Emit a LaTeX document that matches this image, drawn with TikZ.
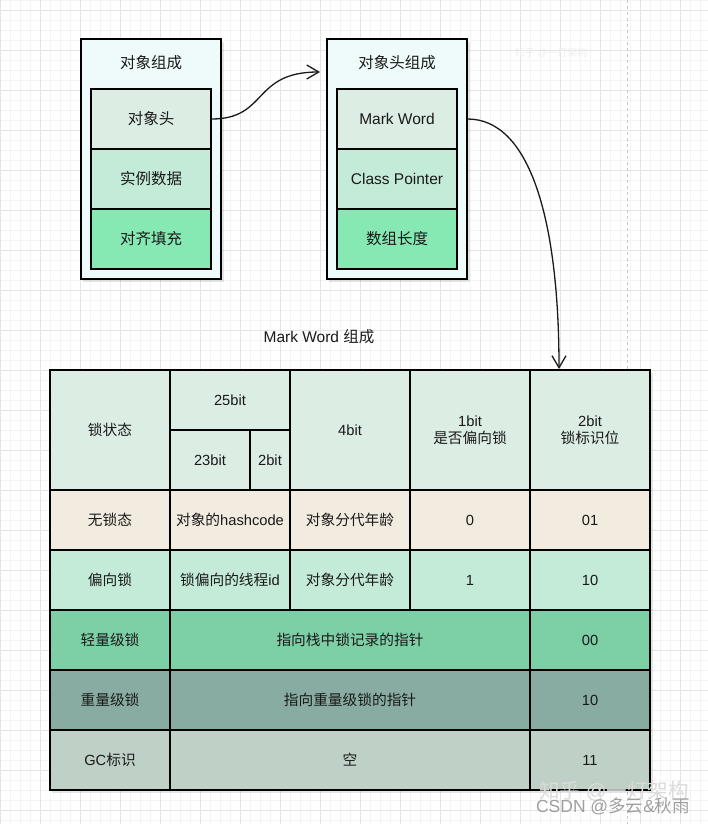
\documentclass[tikz,border=0pt]{standalone}
\usepackage{fontspec}
\setmainfont{Liberation Sans}
\newfontfamily\cjk{Noto Sans CJK SC}
\usetikzlibrary{arrows.meta}
\definecolor{txt}{HTML}{1A1A1A}
\definecolor{outerfill}{HTML}{EFFAFA}
\definecolor{cA}{HTML}{DCEDE4}
\definecolor{cB}{HTML}{C3EBD7}
\definecolor{cC}{HTML}{86E8B2}
\definecolor{beige}{HTML}{F2EBE0}
\definecolor{lightlk}{HTML}{7DCFA5}
\definecolor{heavylk}{HTML}{88ACA1}
\definecolor{gcrow}{HTML}{BFD0C6}
\definecolor{gridminor}{HTML}{F4F4F4}
\definecolor{gridmajor}{HTML}{E4E4E4}
\newcommand\topfnt{\fontsize{15.5}{18}\selectfont}
\newcommand\tabfnt{\fontsize{14.7}{18}\selectfont}
\tikzset{
  boxline/.style={draw=black, line width=1.1pt},
  outerbox/.style={boxline, fill=outerfill, minimum width=140pt, minimum height=240pt, inner sep=0pt},
  innerbox/.style={boxline, minimum width=120pt, minimum height=60pt, inner sep=0pt, text=txt, font=\topfnt},
  titletext/.style={text=txt, font=\topfnt, inner sep=0pt},
  cell/.style={boxline, inner sep=0pt, text=txt, font=\tabfnt, align=center},
  wide/.style={cell, minimum width=120pt, minimum height=60pt},
  conn/.style={draw=txt, line width=1.3pt, -{Straight Barb[length=12pt,width=14pt,line width=1.3pt]}},
  shadowbox/.style={fill=black, opacity=0.10},
}
\begin{document}
\begin{tikzpicture}[x=1pt,y=-1pt]
\useasboundingbox (0,0) rectangle (708,824);
\fill[white] (0,0) rectangle (708,824);
% grid
\foreach \g in {0,10,...,700} \draw[gridminor, line width=0.6pt] (\g,0) -- (\g,824);
\foreach \g in {0,10,...,820} \draw[gridminor, line width=0.6pt] (0,\g) -- (708,\g);
\foreach \g in {0,40,...,700} \draw[gridmajor, line width=0.8pt] (\g,0) -- (\g,824);
\foreach \g in {10,50,...,820} \draw[gridmajor, line width=0.8pt] (0,\g) -- (708,\g);
\draw[gray!45, dashed, line width=0.6pt] (627,0) -- (627,824);

% shadows
\fill[shadowbox] (83,42) rectangle (224,282);
\fill[shadowbox] (329,42) rectangle (470,282);
\fill[shadowbox] (52,373) rectangle (653,793);

% left object box
\node[outerbox] (objouter) at (151,159) {};
\node[titletext] (objtitle) at (151,63) {\cjk 对象组成};
\node[innerbox, fill=cA] (objhead) at (151,119) {\cjk 对象头};
\node[innerbox, fill=cB] (objdata) at (151,179) {\cjk 实例数据};
\node[innerbox, fill=cC] (objpad) at (151,239) {\cjk 对齐填充};

% right header box
\node[outerbox] (hdouter) at (397,159) {};
\node[titletext] (hdtitle) at (397,63) {\cjk 对象头组成};
\node[innerbox, fill=cA] (mw) at (397,119) {Mark Word};
\node[innerbox, fill=cB] (cp) at (397,179) {Class Pointer};
\node[innerbox, fill=cC] (alen) at (397,239) {\cjk 数组长度};

% label
\node[titletext] (mwlabel) at (319,337) {Mark Word {\cjk 组成}};

% table header
\node[cell, fill=cA, minimum width=120pt, minimum height=120pt] (hstate) at (110,430) {\cjk 锁状态};
\node[cell, fill=cA, minimum width=120pt, minimum height=60pt] (h25) at (230,400) {25bit};
\node[cell, fill=cA, minimum width=80pt, minimum height=60pt] (h23) at (210,460) {23bit};
\node[cell, fill=cA, minimum width=40pt, minimum height=60pt] (h2a) at (270,460) {2bit};
\node[cell, fill=cA, minimum width=120pt, minimum height=120pt] (h4) at (350,430) {4bit};
\node[cell, fill=cA, minimum width=120pt, minimum height=120pt] (h1) at (470,430) {1bit\\[-1pt]{\cjk 是否偏向锁}};
\node[cell, fill=cA, minimum width=120pt, minimum height=120pt] (h2b) at (590,430) {2bit\\[-1pt]{\cjk 锁标识位}};

% row: no lock
\node[wide, fill=beige] (r1a) at (110,520) {\cjk 无锁态};
\node[wide, fill=beige] (r1b) at (230,520) {{\cjk 对象的}hashcode};
\node[wide, fill=beige] (r1c) at (350,520) {\cjk 对象分代年龄};
\node[wide, fill=beige] (r1d) at (470,520) {0};
\node[wide, fill=beige] (r1e) at (590,520) {01};

% row: biased
\node[wide, fill=cB] (r2a) at (110,580) {\cjk 偏向锁};
\node[wide, fill=cB] (r2b) at (230,580) {{\cjk 锁偏向的线程}id};
\node[wide, fill=cB] (r2c) at (350,580) {\cjk 对象分代年龄};
\node[wide, fill=cB] (r2d) at (470,580) {1};
\node[wide, fill=cB] (r2e) at (590,580) {10};

% row: lightweight
\node[wide, fill=lightlk] (r3a) at (110,640) {\cjk 轻量级锁};
\node[cell, fill=lightlk, minimum width=360pt, minimum height=60pt] (r3b) at (350,640) {\cjk 指向栈中锁记录的指针};
\node[wide, fill=lightlk] (r3e) at (590,640) {00};

% row: heavyweight
\node[wide, fill=heavylk] (r4a) at (110,700) {\cjk 重量级锁};
\node[cell, fill=heavylk, minimum width=360pt, minimum height=60pt] (r4b) at (350,700) {\cjk 指向重量级锁的指针};
\node[wide, fill=heavylk] (r4e) at (590,700) {10};

% row: GC
\node[wide, fill=gcrow] (r5a) at (110,760) {GC{\cjk 标识}};
\node[cell, fill=gcrow, minimum width=360pt, minimum height=60pt] (r5b) at (350,760) {\cjk 空};
\node[wide, fill=gcrow] (r5e) at (590,760) {11};

% connectors
\coordinate (a1end) at (320,72);
\coordinate (a2end) at (559,369);
\draw[conn] (objhead.east) .. controls (268,119) and (252,72) .. (a1end);
\draw[conn] (mw.east -| hdouter.east) .. controls (530,119) and (559,220) .. (a2end);

% watermarks
\node[text=black!7, font=\fontsize{10}{12}\selectfont, inner sep=0pt] (wmtop) at (551,53) {{\cjk 知乎} @{\cjk 一灯架构}};
\node[text=black!14, font=\fontsize{20.5}{24}\selectfont, inner sep=0pt] (wmz) at (614,791) {{\cjk 知乎} @{\cjk 一灯架构}};
\node[text=gray!75, font=\fontsize{17.5}{20}\selectfont, inner sep=0pt] (wmcsdn) at (613,806) {CSDN @{\cjk 多云}\&{\cjk 秋雨}};
\end{tikzpicture}
\end{document}
